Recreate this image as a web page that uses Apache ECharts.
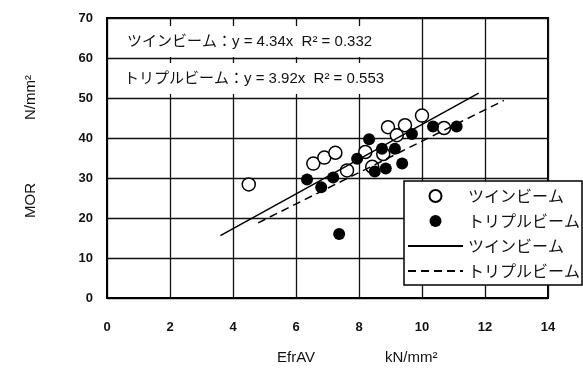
<!DOCTYPE html>
<html>
<head>
<meta charset="utf-8">
<script src="https://cdn.jsdelivr.net/npm/echarts@6/dist/echarts.min.js"></script>
<style>
  html, body { margin: 0; padding: 0; background: #fff; }
  #chart { width: 583px; height: 381px; }
</style>
</head>
<body>
<div id="chart"></div>
<script>
var twinPoints = [
  [4.5, 28.4], [6.55, 33.6], [6.9, 35.1], [7.25, 36.3], [7.62, 31.9],
  [8.2, 36.5], [8.42, 32.8], [8.77, 36.0], [8.92, 42.7], [9.2, 40.7],
  [9.46, 43.2], [10.0, 45.6], [10.7, 42.5]
];
var triplePoints = [
  [6.35, 29.6], [6.8, 27.7], [7.18, 30.1], [7.37, 16.0], [7.94, 34.8],
  [8.32, 39.7], [8.5, 31.6], [8.73, 37.3], [8.85, 32.4], [9.14, 37.3],
  [9.37, 33.6], [9.68, 41.0], [10.35, 42.9], [11.1, 42.9]
];
// 回帰直線の両端
var twinFit = [[3.6, 15.6], [11.8, 51.2]];
var tripleFit = [[4.8, 18.8], [12.6, 49.4]];

var legendNames = {
  twin: 'ツインビーム',
  triple: 'トリプルビーム',
  twinFit: 'ツインビーム',
  tripleFit: 'トリプルビーム'
};
var xTicks = [0, 2, 4, 6, 8, 10, 12, 14];
var yTicks = [0, 10, 20, 30, 40, 50, 60, 70];

var latin = '"Liberation Sans", "Noto Sans CJK JP", sans-serif';

var myChart = echarts.init(document.getElementById('chart'));
var option = {
  animation: false,
  backgroundColor: '#fff',
  grid: {
    left: 107, right: 35, top: 18, bottom: 83,
    show: true, borderColor: '#000', borderWidth: 2
  },
  xAxis: {
    type: 'value',
    min: xTicks[0], max: xTicks[xTicks.length - 1], interval: 2,
    axisLine: { show: true, onZero: false, lineStyle: { color: '#000', width: 2 } },
    axisTick: { show: false },
    splitLine: { show: true, lineStyle: { color: '#111', width: 1.3 } },
    axisLabel: { margin: 23, color: '#111', fontSize: 13, fontWeight: 'bold', fontFamily: latin }
  },
  yAxis: {
    type: 'value',
    min: yTicks[0], max: yTicks[yTicks.length - 1], interval: 10,
    axisLine: { show: true, onZero: false, lineStyle: { color: '#000', width: 2 } },
    axisTick: { show: false },
    splitLine: { show: true, lineStyle: { color: '#111', width: 1.3 } },
    axisLabel: { margin: 14, color: '#111', fontSize: 13, fontWeight: 'bold', fontFamily: latin }
  },
  legend: {
    orient: 'vertical',
    left: 404, top: 181,
    backgroundColor: '#fff',
    borderColor: '#000', borderWidth: 1.5, borderRadius: 0,
    padding: [7, 2, 6, 3],
    itemWidth: 55, itemHeight: 12, itemGap: 9,
    selectedMode: false,
    textStyle: { color: '#111', fontSize: 16, fontFamily: '"Noto Sans CJK JP", sans-serif' },
    formatter: function (name) { return legendNames[name]; },
    data: [
      { name: 'twin' },
      { name: 'triple' },
      { name: 'twinFit', itemStyle: { opacity: 0 } },
      { name: 'tripleFit', itemStyle: { opacity: 0 } }
    ]
  },
  graphic: [
    {
      type: 'text', left: 124, top: 26, z: 50,
      style: {
        text: 'ツインビーム：y = 4.34x  R² = 0.332',
        fontSize: 15, fontFamily: latin, fill: '#111',
        backgroundColor: '#fff', padding: [8, 3, 8, 3]
      }
    },
    {
      type: 'text', left: 121, top: 63, z: 50,
      style: {
        text: 'トリプルビーム：y = 3.92x  R² = 0.553',
        fontSize: 15, fontFamily: latin, fill: '#111',
        backgroundColor: '#fff', padding: [8, 3, 8, 3]
      }
    },
    {
      type: 'text', left: 277, top: 350,
      style: { text: 'EfrAV', fontSize: 15, fontFamily: latin, fill: '#111' }
    },
    {
      type: 'text', left: 385, top: 350,
      style: { text: 'kN/mm²', fontSize: 15, fontFamily: latin, fill: '#111' }
    },
    {
      type: 'text', x: 31, y: 218, rotation: Math.PI / 2,
      style: { text: 'MOR', fontSize: 15, fontFamily: latin, fill: '#111', verticalAlign: 'middle' }
    },
    {
      type: 'text', x: 31, y: 120, rotation: Math.PI / 2,
      style: { text: 'N/mm²', fontSize: 15, fontFamily: latin, fill: '#111', verticalAlign: 'middle' }
    }
  ],
  series: [
    {
      name: 'twin',
      type: 'scatter',
      data: twinPoints,
      symbol: 'circle',
      symbolSize: 13,
      itemStyle: { color: '#fff', borderColor: '#000', borderWidth: 1.5, opacity: 1 },
      z: 2
    },
    {
      name: 'triple',
      type: 'scatter',
      data: triplePoints,
      symbol: 'circle',
      symbolSize: 12,
      itemStyle: { color: '#000', opacity: 1 },
      z: 3
    },
    {
      name: 'twinFit',
      type: 'line',
      data: twinFit,
      symbol: 'none',
      itemStyle: { color: '#000' },
      lineStyle: { color: '#000', width: 1.5 },
      z: 4
    },
    {
      name: 'tripleFit',
      type: 'line',
      data: tripleFit,
      symbol: 'none',
      itemStyle: { color: '#000' },
      lineStyle: { color: '#000', width: 1.5, type: [8, 5] },
      z: 4
    }
  ]
};
myChart.setOption(option);
</script>
</body>
</html>
